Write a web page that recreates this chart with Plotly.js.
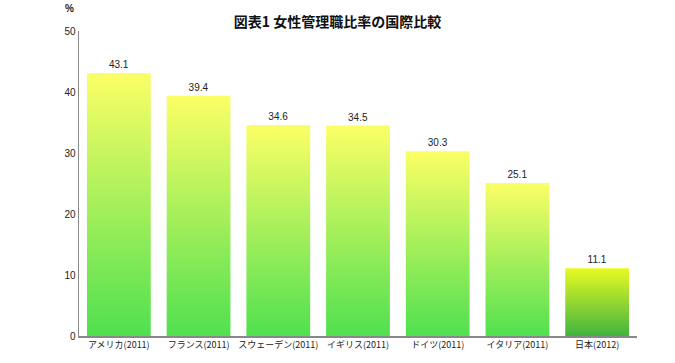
<!DOCTYPE html>
<html>
<head>
<meta charset="utf-8">
<script src="https://cdn.plot.ly/plotly-3.0.1.min.js"></script>
<style>
html,body{margin:0;padding:0;background:#fff;}
#chart{width:675px;height:363px;}
</style>
</head>
<body>
<div id="chart"></div>
<script>
const categories = ["アメリカ(2011)","フランス(2011)","スウェーデン(2011)","イギリス(2011)","ドイツ(2011)","イタリア(2011)","日本(2012)"];
const values = [43.1, 39.4, 34.6, 34.5, 30.3, 25.1, 11.1];
const valueLabels = ["43.1","39.4","34.6","34.5","30.3","25.1","11.1"];
const yTicks = [0,10,20,30,40,50];

const font = "Liberation Sans, Arial, 'Noto Sans CJK JP', sans-serif";

const trace = {
  type: "bar",
  x: categories,
  y: values,
  text: valueLabels,
  textposition: "outside",
  cliponaxis: false,
  textfont: {family: font, size: 10, color: "#222"},
  marker: {color: values.map((v,i)=> i===values.length-1 ? "#90d030" : "#a0f060"), line: {width: 0}},
  hoverinfo: "skip"
};

const layout = {
  width: 675, height: 363,
  margin: {l: 79, r: 38, t: 31, b: 27},
  paper_bgcolor: "#fff", plot_bgcolor: "#fff",
  showlegend: false,
  bargap: 0.2,
  title: {text: "図表1 女性管理職比率の国際比較", font: {family: "'Noto Sans CJK JP', sans-serif", size: 14, color: "#111", weight: "bold"}, x: 0.5, xanchor: "center", xref: "container", y: 0.94, yanchor: "middle"},
  xaxis: {
    showgrid: false, zeroline: false, showline: true, linecolor: "#888", linewidth: 1.5,
    ticks: "", tickangle: 0, automargin: false,
    tickfont: {family: "'Noto Sans CJK JP', sans-serif", size: 9, color: "#222"}, fixedrange: true
  },
  yaxis: {
    range: [0, 50], tickvals: yTicks, ticktext: yTicks.map(String),
    showgrid: false, zeroline: false, showline: true, linecolor: "#888", linewidth: 1.5,
    ticks: "", ticklen: 0, tickfont: {family: font, size: 10, color: "#222"}, fixedrange: true
  },
  annotations: [{
    text: "%", xref: "paper", yref: "paper", x: -0.005, y: 1.075, xanchor: "right", yanchor: "middle",
    showarrow: false, font: {family: font, size: 10, color: "#222", weight: "bold"}
  }]
};

Plotly.newPlot("chart", [trace], layout, {staticPlot: true, displayModeBar: false}).then(function(gd){
  const svg = gd.querySelector("svg.main-svg");
  const ns = "http://www.w3.org/2000/svg";
  let defs = svg.querySelector("defs");
  if (!defs) { defs = document.createElementNS(ns, "defs"); svg.insertBefore(defs, svg.firstChild); }
  function grad(id, top, bottom) {
    const g = document.createElementNS(ns, "linearGradient");
    g.setAttribute("id", id);
    g.setAttribute("x1", "0"); g.setAttribute("y1", "0");
    g.setAttribute("x2", "0"); g.setAttribute("y2", "1");
    [[0, top], [1, bottom]].forEach(function(s){
      const st = document.createElementNS(ns, "stop");
      st.setAttribute("offset", s[0]);
      st.setAttribute("stop-color", s[1]);
      g.appendChild(st);
    });
    defs.appendChild(g);
  }
  grad("gradMain", "#fcff66", "#50e050");
  grad("gradJapan", "#e8fa22", "#40b440");
  const paths = gd.querySelectorAll(".barlayer .point path");
  paths.forEach(function(p, i){
    p.style.fill = (i === paths.length - 1) ? "url(#gradJapan)" : "url(#gradMain)";
  });
});
</script>
</body>
</html>
